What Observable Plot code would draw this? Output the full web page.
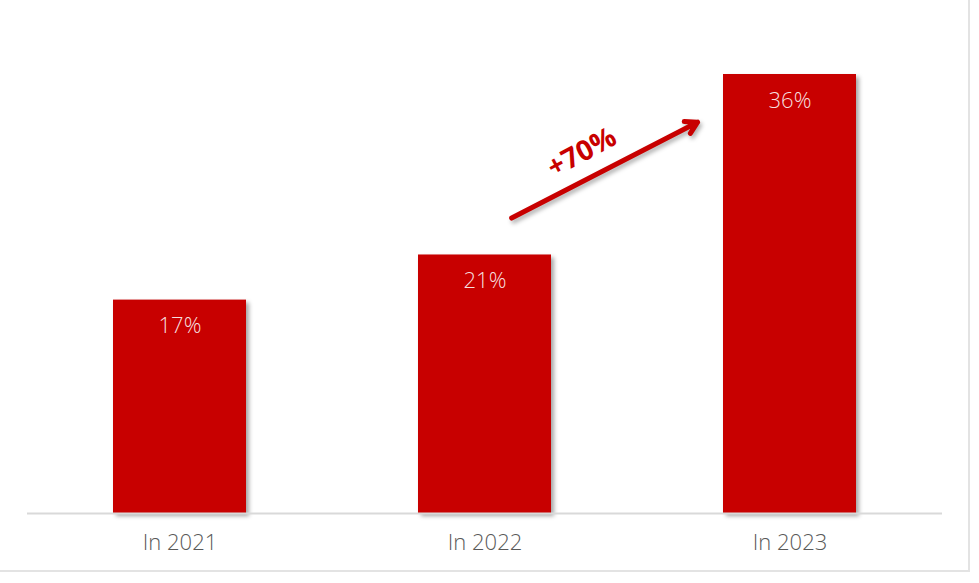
<!DOCTYPE html>
<html>
<head>
<meta charset="utf-8">
<script src="https://cdn.jsdelivr.net/npm/d3@7"></script>
<script src="https://cdn.jsdelivr.net/npm/@observablehq/plot@0.6"></script>
<style>
  html, body { margin: 0; padding: 0; background: #fff; }
  #wrap { position: relative; width: 979px; height: 583px; }
  #frame { position: absolute; left: 0; top: 0; width: 968px; height: 570px;
           border-right: 2px solid #e3e3e3; border-bottom: 2px solid #e3e3e3; }
  #chart { position: absolute; left: 0; top: 0; }
  .bars rect { filter: drop-shadow(3px 3px 2px rgba(0,0,0,0.35)); }
  .growth { filter: drop-shadow(2px 3px 2px rgba(0,0,0,0.3)); }
</style>
</head>
<body>
<div id="wrap"><div id="frame"></div><div id="chart"></div></div>
<script>
const categories = ["In 2021", "In 2022", "In 2023"];
const values = [17.5, 21.2, 36];
const valueLabels = ["17%", "21%", "36%"];

// annotation: growth arrow between 2022 and 2023
const growthFrom = ["In 2022", 23.1];
const growthTo = ["In 2023", 36];
const growthLabel = "+70%";
const growthLabelValue = 29.6;

const data = categories.map((c, i) => ({cat: c, value: values[i], label: valueLabels[i]}));
const red = "#C80000";

const chart = Plot.plot({
  width: 979,
  height: 583,
  marginLeft: 27,
  marginRight: 37,
  marginTop: 74,
  marginBottom: 70,
  style: {fontFamily: "'Open Sans', sans-serif", background: "transparent"},
  x: {domain: categories, padding: 0.564, paddingOuter: 0.282, label: null},
  y: {domain: [0, 36], axis: null},
  marks: [
    Plot.barY(data, {x: "cat", y: "value", fill: red, className: "bars"}),
    Plot.ruleY([0], {stroke: "#d9d9d9", strokeWidth: 2}),
    Plot.text(data, {x: "cat", y: "value", text: "label", dy: 26, fill: "#f6dede",
                     fontSize: 22, fontWeight: 300}),
    Plot.axisX({tickSize: 0, tickPadding: 21, fontSize: 22, fontWeight: 300, fill: "#595959", label: null}),
    Plot.arrow([{x1: growthFrom[0], y1: growthFrom[1], x2: growthTo[0], y2: growthTo[1]}], {
      x1: "x1", y1: "y1", x2: "x2", y2: "y2",
      stroke: red, strokeWidth: 5, headLength: 4, headAngle: 60,
      insetStart: 30, insetEnd: 104, className: "growth"
    }),
    Plot.text([growthLabel], {x: () => growthFrom[0], y: () => growthLabelValue, text: d => d,
      dx: 97, rotate: -28, fill: red, fontSize: 28, fontWeight: 700})
  ]
});
document.getElementById("chart").appendChild(chart);
</script>
</body>
</html>
